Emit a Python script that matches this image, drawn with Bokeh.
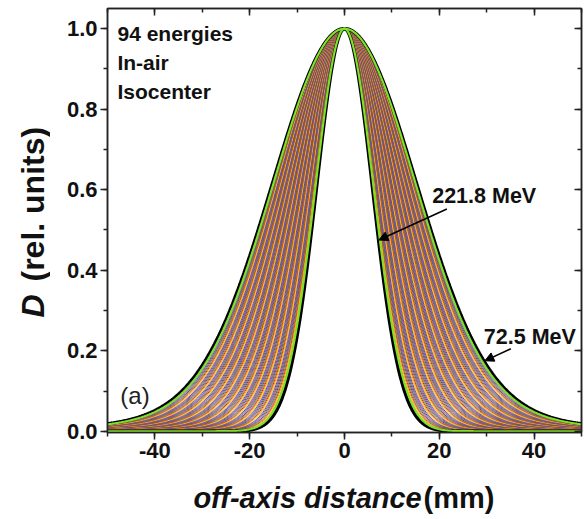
import numpy as np
from bokeh.plotting import figure
from bokeh.layouts import row, column
from bokeh.core.properties import value
from bokeh.models import (ColumnDataSource, Label, Arrow, NormalHead, LinearAxis,
                          SingleIntervalTicker, NumeralTickFormatter, Range1d)
from bokeh.embed import file_html
from bokeh.resources import INLINE

# ---- data ----
energy_labels = ["72.5 MeV", "221.8 MeV"]   # lowest / highest of the 94 energies
# core sigma (mm) of each of the 94 lateral profiles, from 72.5 MeV (widest) to 221.8 MeV
sigma_mm = [
    15.00, 14.90, 14.80, 14.70, 14.60, 14.51, 14.41, 14.31, 14.21, 14.12,
    14.02, 13.92, 13.82, 13.73, 13.63, 13.53, 13.43, 13.34, 13.24, 13.14,
    13.04, 12.95, 12.85, 12.75, 12.65, 12.56, 12.46, 12.36, 12.26, 12.17,
    12.07, 11.97, 11.87, 11.78, 11.68, 11.58, 11.48, 11.39, 11.29, 11.19,
    11.09, 11.00, 10.90, 10.80, 10.70, 10.61, 10.51, 10.41, 10.31, 10.22,
    10.12, 10.02, 9.92, 9.83, 9.73, 9.63, 9.53, 9.44, 9.34, 9.24,
    9.14, 9.05, 8.95, 8.85, 8.75, 8.66, 8.56, 8.46, 8.36, 8.27,
    8.17, 8.07, 7.97, 7.88, 7.78, 7.68, 7.58, 7.49, 7.39, 7.29,
    7.19, 7.10, 7.00, 6.90, 6.80, 6.71, 6.61, 6.51, 6.41, 6.32,
    6.22, 6.12, 6.02, 5.90,
]
halo_frac_max = 0.06      # low-dose halo weight of the widest profile
halo_scale = 2.0          # halo sigma / core sigma
x_ticks = [-40, -20, 0, 20, 40]
y_ticks = [0.0, 0.2, 0.4, 0.6, 0.8, 1.0]
x_title = ["off-axis distance", "(mm)"]
y_title = ["D", "(rel. units)"]
info_lines = ["94 energies", "In-air", "Isocenter"]

band_colors = ["#d62728", "#ff9900", "#e8c81a", "#7b3fa0", "#3a5fcd",
               "#a0522d", "#6a3d9a", "#6b8e23"]

FONT = "Liberation Sans"
INK = "#111111"

x = np.linspace(-50, 50, 501)
smax, smin = max(sigma_mm), min(sigma_mm)


def profile(s):
    w = halo_frac_max * (s - smin) / (smax - smin)
    core = np.exp(-x ** 2 / (2 * s ** 2))
    halo = np.exp(-x ** 2 / (2 * (halo_scale * s) ** 2))
    return (1 - w) * core + w * halo


profiles = [profile(s) for s in sigma_mm]

# ---------------- main plot ----------------
p = figure(width=534, height=475, output_backend="svg", toolbar_location=None,
           x_range=Range1d(-50, 50), y_range=Range1d(-0.003, 1.05),
           min_border_left=57, min_border_right=3, min_border_top=8,
           min_border_bottom=43)
p.grid.visible = False
p.outline_line_color = "#222222"
p.outline_line_width = 1.5

n = len(sigma_mm)
band_idx = list(range(1, n - 1))
src = ColumnDataSource(dict(
    xs=[x for _ in band_idx],
    ys=[profiles[i] for i in band_idx],
    color=[band_colors[i % len(band_colors)] for i in band_idx],
))
p.multi_line("xs", "ys", source=src, line_color="color", line_width=1.0)

for i in (0, n - 1):
    p.line(x, profiles[i], line_color="black", line_width=3.5)
for i in (2, n - 3):
    p.line(x, profiles[i], line_color="#7fe02a", line_width=2.2)

for ax in p.xaxis:
    ax.ticker = SingleIntervalTicker(interval=20, num_minor_ticks=2)
    ax.formatter = NumeralTickFormatter(format="0")
for ax in p.yaxis:
    ax.ticker = SingleIntervalTicker(interval=0.2, num_minor_ticks=2)
    ax.formatter = NumeralTickFormatter(format="0.0")

for ax in list(p.xaxis) + list(p.yaxis):
    ax.axis_line_width = 1.5
    ax.axis_line_color = "#222222"
    ax.major_tick_line_color = "#222222"
    ax.minor_tick_line_color = "#222222"
    ax.major_tick_line_width = 1.5
    ax.minor_tick_line_width = 1.5
    ax.major_tick_out = 7
    ax.major_tick_in = 0
    ax.minor_tick_out = 4
    ax.minor_tick_in = 0
    ax.major_label_text_font = FONT
    ax.major_label_text_font_style = "bold"
    ax.major_label_text_font_size = "22px"
    ax.major_label_text_color = INK
    ax.major_label_standoff = 3

# mirror axes (top / right) with inward ticks and no labels
top = LinearAxis(ticker=SingleIntervalTicker(interval=20, num_minor_ticks=2))
right = LinearAxis(ticker=SingleIntervalTicker(interval=0.2, num_minor_ticks=2))
for ax in (top, right):
    ax.major_label_text_font_size = "1px"
    ax.major_label_text_color = None
    ax.major_label_standoff = 0
    ax.axis_line_width = 1.5
    ax.axis_line_color = "#222222"
    ax.major_tick_line_color = "#222222"
    ax.minor_tick_line_color = "#222222"
    ax.major_tick_line_width = 1.5
    ax.minor_tick_line_width = 1.5
    ax.major_tick_in = 7
    ax.major_tick_out = 0
    ax.minor_tick_in = 4
    ax.minor_tick_out = 0
p.add_layout(top, "above")
p.add_layout(right, "right")

for txt, yy in zip(info_lines, [0.988, 0.916, 0.844]):
    p.add_layout(Label(x=-47.9, y=yy, text=txt, text_align="left",
                       text_baseline="middle", text_font=FONT, text_font_size="21px",
                       text_font_style="bold", text_color=INK))
p.add_layout(Label(x=18.5, y=0.584, text=energy_labels[1], text_align="left",
                   text_baseline="middle", text_font=FONT, text_font_size="21.5px",
                   text_font_style="bold", text_color=INK))
p.add_layout(Label(x=29.4, y=0.235, text=energy_labels[0], text_align="left",
                   text_baseline="middle", text_font=FONT, text_font_size="21.5px",
                   text_font_style="bold", text_color=INK))
p.add_layout(Label(x=-47.3, y=0.089, text="(a)", text_align="left",
                   text_baseline="middle", text_font=FONT, text_font_size="24px",
                   text_color="#222222"))

p.add_layout(Arrow(x_start=21.6, y_start=0.552, x_end=7.25, y_end=0.475,
                   line_width=1.5, line_color="black",
                   end=NormalHead(size=9, fill_color="black", line_color="black")))
p.add_layout(Arrow(x_start=35.1, y_start=0.205, x_end=29.6, y_end=0.175,
                   line_width=1.5, line_color="black",
                   end=NormalHead(size=9, fill_color="black", line_color="black")))


def blank(width, height, xr, yr):
    f = figure(width=width, height=height, output_backend="svg", toolbar_location=None,
               x_range=Range1d(*xr), y_range=Range1d(*yr),
               x_axis_type=None, y_axis_type=None, min_border=0)
    f.grid.visible = False
    f.outline_line_color = None
    return f


# ---------------- x-axis title strip ----------------
pb = blank(534, 44, (50, 584), (519, 475))
pb.text(x=[404], y=[497], text=[x_title[0]], text_align="right", text_baseline="middle",
        text_font=value(FONT), text_font_size=value("29px"),
        text_font_style="bold italic", text_color=INK)
pb.text(x=[406], y=[497], text=[x_title[1]], text_align="left", text_baseline="middle",
        text_font=value(FONT), text_font_size=value("29px"),
        text_font_style="bold", text_color=INK)

# ---------------- y-axis title strip ----------------
pl = blank(50, 519, (0, 50), (519, 0))
pl.text(x=[32], y=[317], text=[y_title[0]], angle=np.pi / 2, text_align="left",
        text_baseline="middle", text_font=value(FONT), text_font_size=value("32px"),
        text_font_style="bold italic", text_color=INK)
pl.text(x=[32], y=[281], text=[y_title[1]], angle=np.pi / 2, text_align="left",
        text_baseline="middle", text_font=value(FONT), text_font_size=value("32px"),
        text_font_style="bold", text_color=INK)

layout = row(pl, column(p, pb, spacing=0), spacing=0)

open("out.html", "w").write(file_html(layout, INLINE))
